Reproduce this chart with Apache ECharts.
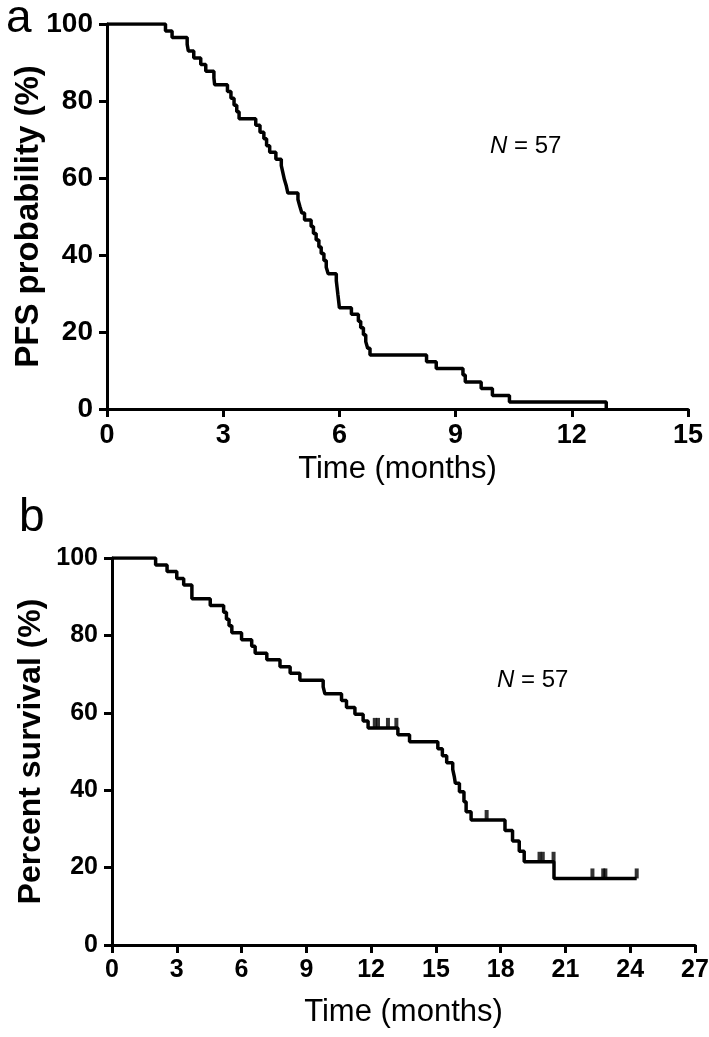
<!DOCTYPE html>
<html>
<head>
<meta charset="utf-8">
<script src="https://cdn.jsdelivr.net/npm/echarts@6/dist/echarts.min.js"></script>
<style>
  html, body { margin: 0; padding: 0; background: #fff; }
  #chart { width: 709px; height: 1037px; }
</style>
</head>
<body>
<div id="chart"></div>
<script>
// panel a: PFS (months, %)
const pfsTime = [0, 1.51, 1.68, 2.07, 2.1, 2.24, 2.42, 2.55, 2.76, 2.78, 3.11, 3.2, 3.28, 3.35, 3.41,
  3.84, 3.95, 4.05, 4.12, 4.2, 4.36, 4.5, 4.54, 4.58, 4.63, 4.67, 4.93, 4.98, 5.03, 5.1, 5.27, 5.33,
  5.4, 5.47, 5.53, 5.6, 5.66, 5.71, 5.92, 5.94, 5.96, 5.98, 6.0, 6.31, 6.49, 6.55, 6.62, 6.68, 6.73,
  6.79, 8.25, 8.5, 9.19, 9.25, 9.66, 9.95, 10.39, 12.89]
const pfsLevel = [100, 98.2, 96.5, 94.7, 93.0, 91.2, 89.5, 87.7, 86.0, 84.2, 82.5, 80.7, 78.9, 77.2, 75.4,
  73.7, 71.9, 70.2, 68.4, 66.7, 64.9, 63.2, 61.4, 59.6, 57.9, 56.1, 54.4, 52.6, 50.9, 49.1, 47.4, 45.6,
  43.9, 42.1, 40.4, 38.6, 36.8, 35.1, 33.3, 31.6, 29.8, 28.1, 26.3, 24.6, 22.8, 21.1, 19.3, 17.5, 15.8,
  14.0, 12.3, 10.5, 8.8, 7.0, 5.3, 3.5, 1.8, 0]

// panel b: overall survival (months, %)
const osTime = [0, 2.02, 2.55, 3.0, 3.32, 3.7, 4.55, 5.17, 5.3, 5.42, 5.55, 6.0, 6.47, 6.63, 7.17, 7.78,
  8.25, 8.7, 9.78, 9.86, 10.63, 10.86, 11.25, 11.63, 11.86, 13.24, 13.78, 15.09, 15.3, 15.5, 15.78,
  15.85, 15.9, 16.09, 16.3, 16.4, 16.63, 18.2, 18.55, 18.86, 19.09, 20.47, 24.3]
const osLevel = [100, 98.2, 96.5, 94.7, 93.0, 89.5, 87.7, 86.0, 84.2, 82.5, 80.7, 78.9, 77.2, 75.4, 73.7,
  71.9, 70.2, 68.4, 66.7, 64.9, 63.2, 61.4, 59.6, 57.9, 56.1, 54.3, 52.5, 50.7, 48.9, 47.1, 45.4, 43.6,
  41.8, 39.6, 37.0, 34.4, 32.3, 29.6, 26.9, 24.2, 21.5, 17.2, 17.2]
const censorTime = [12.17, 12.32, 12.78, 13.17, 17.35, 19.8, 19.95, 20.45, 22.25, 22.75, 22.85, 24.3]
const censorLevel = [56.1, 56.1, 56.1, 56.1, 32.3, 21.5, 21.5, 21.5, 17.2, 17.2, 17.2, 17.2]

const pfsTicks = [0, 3, 6, 9, 12, 15]
const osTicks = [0, 3, 6, 9, 12, 15, 18, 21, 24, 27]
const yTicks = [0, 20, 40, 60, 80, 100]

const zip = (xs, ys) => xs.map((x, i) => [x, ys[i]])

const font = 'Liberation Sans, Arial, sans-serif'
const axisLine = { lineStyle: { color: '#000', width: 3 } }
const axisTick = { show: true, length: 8, lineStyle: { color: '#000', width: 3 } }
const tickLabel = (size) => ({ color: '#000', fontSize: size, fontWeight: 'bold', fontFamily: font })

const xAxis = (grid, ticks, gap, size) => ({
  gridIndex: grid,
  type: 'value',
  min: 0,
  max: ticks[ticks.length - 1],
  interval: 3,
  name: 'Time (months)',
  nameLocation: 'middle',
  nameGap: gap,
  nameTextStyle: { color: '#000', fontSize: 31, fontFamily: font },
  axisLine: axisLine,
  axisTick: axisTick,
  axisLabel: Object.assign({ margin: 13 }, tickLabel(size)),
  splitLine: { show: false }
})

const yAxis = (grid, name, gap, size, nameSize) => ({
  gridIndex: grid,
  type: 'value',
  min: yTicks[0],
  max: yTicks[yTicks.length - 1],
  interval: 20,
  name: name,
  nameLocation: 'middle',
  nameGap: gap,
  nameMoveOverlap: false,
  nameTextStyle: { color: '#000', fontSize: nameSize, fontWeight: 'bold', fontFamily: font },
  axisLine: axisLine,
  axisTick: axisTick,
  axisLabel: Object.assign({ margin: 14 }, tickLabel(size)),
  splitLine: { show: false }
})

const chart = echarts.init(document.getElementById('chart'))
chart.setOption({
  animation: false,
  backgroundColor: '#fff',
  grid: [
    { left: 107, top: 24, width: 581, height: 385, outerBoundsMode: 'none', containLabel: false },
    { left: 112, top: 558, width: 583, height: 387, outerBoundsMode: 'none', containLabel: false }
  ],
  xAxis: [xAxis(0, pfsTicks, 45, 27), xAxis(1, osTicks, 52, 25)],
  yAxis: [yAxis(0, 'PFS probability (%)', 62, 28, 33), yAxis(1, 'Percent survival (%)', 65, 25, 32)],
  graphic: [
    { type: 'text', left: 6, top: -4, style: { text: 'a', fontSize: 46, fontFamily: font, fill: '#000' } },
    { type: 'text', left: 19, top: 495, style: { text: 'b', fontSize: 46, fontFamily: font, fill: '#000' } },
    {
      type: 'text', left: 490, top: 134,
      style: {
        text: '{i|N} = 57', fontSize: 24, fontFamily: font, fill: '#000',
        rich: { i: { fontStyle: 'italic', fontSize: 24, fontFamily: font } }
      }
    },
    {
      type: 'text', left: 497, top: 668,
      style: {
        text: '{i|N} = 57', fontSize: 24, fontFamily: font, fill: '#000',
        rich: { i: { fontStyle: 'italic', fontSize: 24, fontFamily: font } }
      }
    }
  ],
  series: [
    {
      type: 'line',
      xAxisIndex: 0, yAxisIndex: 0,
      step: 'end',
      data: zip(pfsTime, pfsLevel),
      showSymbol: false,
      lineStyle: { color: '#000', width: 3.5 }
    },
    {
      type: 'line',
      xAxisIndex: 1, yAxisIndex: 1,
      step: 'end',
      data: zip(osTime, osLevel),
      showSymbol: false,
      lineStyle: { color: '#000', width: 3.5 }
    },
    {
      type: 'scatter',
      xAxisIndex: 1, yAxisIndex: 1,
      data: zip(censorTime, censorLevel),
      symbol: 'rect',
      symbolSize: [4, 10],
      symbolOffset: [0, -5],
      itemStyle: { color: '#000' }
    }
  ]
})
</script>
</body>
</html>
